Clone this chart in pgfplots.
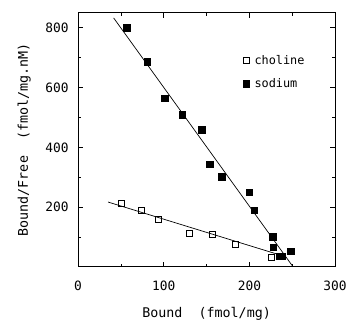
\documentclass[border=0pt]{standalone}
\usepackage{fontspec}
\setmainfont{DejaVu Sans Mono}
\usepackage{pgfplots}
\pgfplotsset{compat=1.18}
\begin{document}
\begin{tikzpicture}
\begin{axis}[
  at={(0,0)}, anchor=south west,
  scale only axis, width=260pt, height=257pt,
  xmin=0, xmax=300, ymin=0, ymax=850,
  xtick={0,100,200,300}, ytick={200,400,600,800},
  minor xtick={50,150,250}, minor ytick={100,300,500,700},
  tick align=inside, major tick length=5pt, minor tick length=3pt,
  tick style={black, line width=0.6pt},
  axis line style={line width=0.9pt},
  /pgf/number format/assume math mode=true,
  ticklabel style={font=\fontsize{13}{15}\selectfont},
  xticklabel style={yshift=-11pt},
  yticklabel style={xshift=-6pt},
  xlabel={Bound~~(fmol/mg)}, ylabel={Bound/Free~~(fmol/mg.nM)},
  label style={font=\fontsize{13.5}{15}\selectfont},
  xlabel style={yshift=-10pt},
  ylabel style={yshift=8pt},
  legend style={at={(rel axis cs:0.63,0.85)}, anchor=north west, draw=none, fill=none,
    font=\fontsize{12}{14}\selectfont, row sep=9pt},
  legend cell align=left,
  legend image code/.code={\draw[#1] (0pt,0pt) plot coordinates {(0pt,0pt)};\path (6pt,0pt);},
  clip=false,
]
% choline
\addplot[only marks, mark=square, mark size=3pt, mark options={line width=0.7pt}, black]
coordinates {(50.8,212) (73.8,189) (94.2,158) (130.4,111) (156.5,108) (183.8,75) (226,33)};
\addlegendentry{choline}
% sodium
\addplot[only marks, mark=square*, mark size=3.3pt, black]
coordinates {(56.9,800) (80.8,686) (101,564) (121.5,510) (144,459) (153.8,344) (167.6,302)
(200,250) (205.8,189) (227,101) (227.6,66) (235,35) (238,35) (248,52)};
\addlegendentry{sodium}
% fits
\addplot[black, line width=0.7pt, forget plot] coordinates {(41.5,833) (251,0)};
\addplot[black, line width=0.7pt, forget plot] coordinates {(35,217) (240,36)};
\end{axis}
\path (-79pt,-50pt) rectangle (271pt,270pt);
\end{tikzpicture}
\end{document}
